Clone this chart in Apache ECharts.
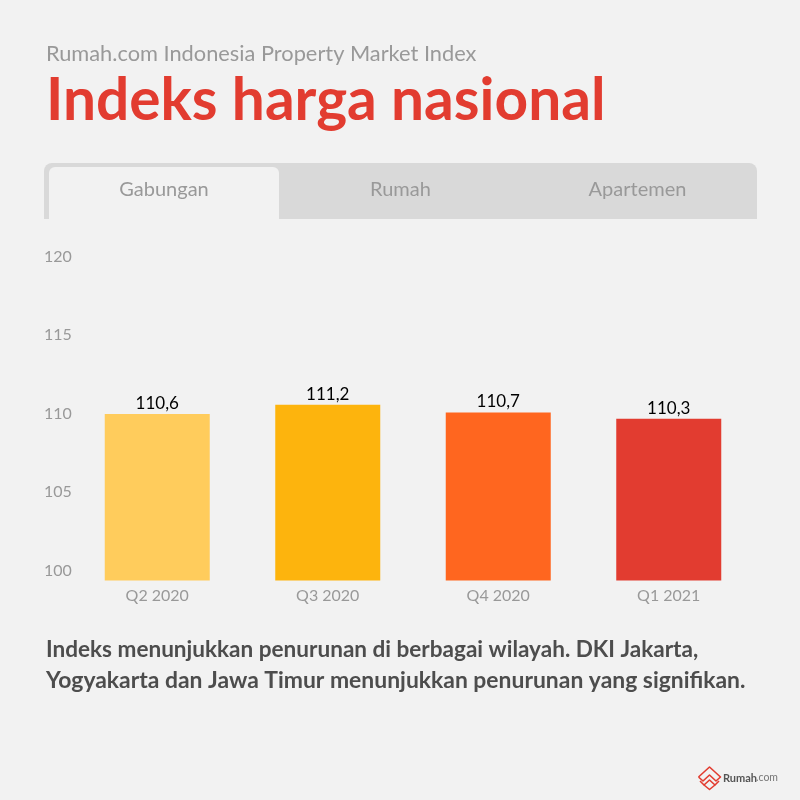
<!DOCTYPE html>
<html>
<head>
<meta charset="utf-8">
<style>
  html, body { margin: 0; padding: 0; background: #f2f2f2; }
  #chart { width: 800px; height: 800px; }
</style>
<script src="https://cdn.jsdelivr.net/npm/echarts@6/dist/echarts.min.js"></script>
</head>
<body>
<div id="chart"></div>
<script>
const FONT = 'Lato';

const categories = ['Q2 2020', 'Q3 2020', 'Q4 2020', 'Q1 2021'];
const values = [110.6, 111.2, 110.7, 110.3];
const barColors = ['#ffcc5c', '#fdb40d', '#ff661f', '#e23c30'];
const tabLabels = ['Gabungan', 'Rumah', 'Apartemen'];
const noteLines = [
    'Indeks menunjukkan penurunan di berbagai wilayah. DKI Jakarta,',
    'Yogyakarta dan Jawa Timur menunjukkan penurunan yang signifikan.'
];

const chart = echarts.init(document.getElementById('chart'));

function text(x, y, str, size, color, weight, align) {
    return {
        type: 'text',
        x: x,
        y: y,
        style: {
            text: str,
            fontFamily: FONT,
            fontSize: size,
            fontWeight: weight || 'normal',
            fill: color,
            align: align || 'left',
            verticalAlign: 'middle'
        }
    };
}

function logoLine(points, width) {
    return {
        type: 'polyline',
        shape: { points: points },
        style: { stroke: '#e23c30', lineWidth: width, fill: null, lineJoin: 'round' }
    };
}

chart.setOption({
    backgroundColor: '#f2f2f2',
    animation: false,
    grid: { left: 72, right: 46, top: 266.5, bottom: 219.5 },
    xAxis: {
        type: 'category',
        data: categories,
        axisLine: { show: false },
        axisTick: { show: false },
        axisLabel: { color: '#999999', fontFamily: FONT, fontSize: 16, margin: 7 }
    },
    yAxis: {
        type: 'value',
        min: 100,
        max: 120,
        interval: 5,
        splitLine: { show: false },
        axisLine: { show: false },
        axisTick: { show: false },
        axisLabel: {
            color: '#999999',
            fontFamily: FONT,
            fontSize: 16,
            align: 'left',
            verticalAlign: 'bottom',
            margin: 28,
            padding: [0, 0, 2, 0]
        }
    },
    series: [{
        type: 'bar',
        barWidth: 105,
        data: values.map((v, i) => ({ value: v, itemStyle: { color: barColors[i] } })),
        label: {
            show: true,
            position: 'top',
            distance: 2,
            color: '#000000',
            fontFamily: FONT,
            fontSize: 17,
            formatter: p => String(p.value).replace('.', ',')
        }
    }],
    graphic: [
        { type: 'rect', shape: { x: 44, y: 163, width: 713, height: 56, r: [8, 8, 0, 0] }, style: { fill: '#d9d9d9' } },
        { type: 'rect', shape: { x: 49, y: 167, width: 230, height: 52, r: [6, 6, 0, 0] }, style: { fill: '#f2f2f2' } },
        text(164, 190, tabLabels[0], 20, '#999999', 'normal', 'center'),
        text(400.5, 190, tabLabels[1], 20, '#999999', 'normal', 'center'),
        text(637.5, 190, tabLabels[2], 20, '#999999', 'normal', 'center'),
        text(46, 54, 'Rumah.com Indonesia Property Market Index', 21.8, '#999999'),
        text(46, 101, 'Indeks harga nasional', 58.6, '#e23c30', 'bold'),
        text(46, 650, noteLines[0], 22.55, '#4d4d4d', 'bold'),
        text(46, 681, noteLines[1], 22.9, '#4d4d4d', 'bold'),
        logoLine([[698.5, 777], [709.5, 767], [720.5, 777], [716, 781], [709.5, 775], [703, 781], [698.5, 777]], 1.6),
        logoLine([[700, 781], [704, 785], [709.5, 780], [715, 785], [719, 781]], 1.6),
        logoLine([[704, 785], [709.5, 789.5], [715, 785]], 1.6),
        text(723, 778, 'Rumah', 11, '#555555', 'bold'),
        text(756, 778, '.com', 10.5, '#777777')
    ]
});
</script>
</body>
</html>
